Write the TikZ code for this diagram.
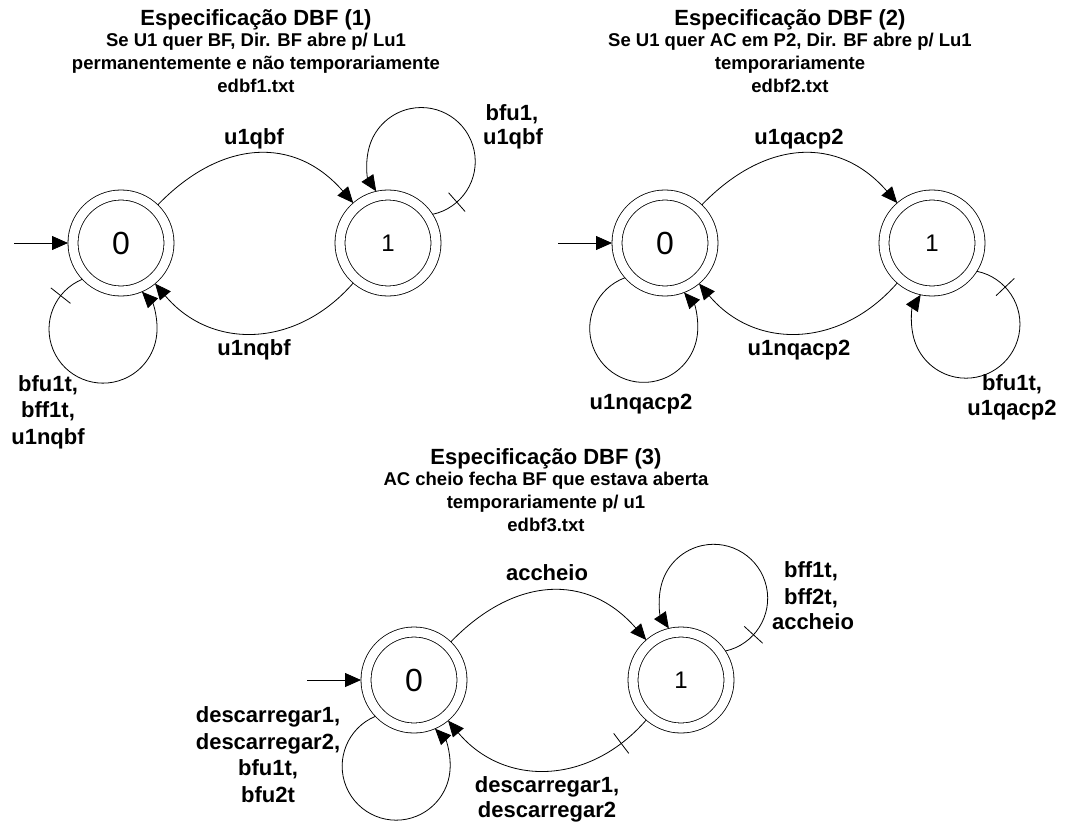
\documentclass[tikz,border=0pt]{standalone}
\usepackage{fontspec}
\setmainfont{Liberation Sans}
\usetikzlibrary{arrows.meta,calc,decorations.markings}
\tikzset{
  state/.style={circle, draw, line width=0.8pt, double, double distance=9.2pt,
    minimum size=96pt, inner sep=0pt, outer sep=5pt},
  zero/.style={font=\fontsize{32}{32}\selectfont},
  one/.style={font=\fontsize{24}{24}\selectfont},
  edge/.style={line width=0.8pt, -{Triangle[length=16pt,width=14pt]}},
  lab/.style={font=\fontsize{22}{26}\selectfont\bfseries, anchor=base, inner sep=0pt},
  ttl/.style={font=\fontsize{22}{26}\selectfont\bfseries, anchor=base, inner sep=0pt},
  sub/.style={font=\fontsize{18.5}{22}\selectfont\bfseries, anchor=base, inner sep=0pt},
  tickat/.style={postaction={decorate}, decoration={markings,
    mark=at position #1 with {\draw[-, line width=0.8pt] (0pt,-12.5pt) -- (0pt,12.5pt);}}},
  notick/.style={}
}
\newcommand\ccwloop[3]{%
  \draw[edge,#3] ($(#1.center)+(#2:88pt)+({#2+214.3}:54pt)$)
    arc[start angle={#2+214.3}, end angle={#2+505.7}, radius=54pt];}
\newcommand\cwloop[3]{%
  \draw[edge,#3] ($(#1.center)+(#2:88pt)+({#2+145.7}:54pt)$)
    arc[start angle={#2+145.7}, end angle={#2-145.7}, radius=54pt];}
\begin{document}
\begin{tikzpicture}[x=1pt,y=1pt]
\path[use as bounding box, fill=white] (0,0) rectangle (1069,-825);

% ---------- Automaton 1 ----------
\node[ttl] (t1a) at (256,-25) {Especificação DBF (1)};
\node[sub] (t1b) at (256,-46.5) {Se U1 quer BF, Dir. BF abre p/ Lu1};
\node[sub] (t1c) at (256,-69.5) {permanentemente e não temporariamente};
\node[sub] (t1d) at (256,-92.5) {edbf1.txt};

\node[state, zero] (a0) at (121,-243) {0};
\node[state, one] (a1) at (388,-243) {1};
\coordinate (ai) at (14,-243);
\draw[edge] (ai) -- (a0);
\draw[edge] (a0) to[out=46, in=131, looseness=1.18] (a1);
\draw[edge] (a1) to[out=229, in=310, looseness=1.12] (a0);
\ccwloop{a1}{67.8}{tickat=0.1}
\ccwloop{a0}{258.2}{tickat=0.1}
\node[lab] (la1) at (254,-144) {u1qbf};
\node[lab] (la2) at (254,-355) {u1nqbf};
\node[lab] (la3) at (512,-120) {bfu1,};
\node[lab] (la4) at (513,-144) {u1qbf};
\node[lab] (la5) at (48,-391) {bfu1t,};
\node[lab] (la6) at (48,-417) {bff1t,};
\node[lab] (la7) at (48,-444) {u1nqbf};

% ---------- Automaton 2 ----------
\node[ttl] (t2a) at (790,-25) {Especificação DBF (2)};
\node[sub] (t2b) at (790,-46.5) {Se U1 quer AC em P2, Dir. BF abre p/ Lu1};
\node[sub] (t2c) at (790,-69.5) {temporariamente};
\node[sub] (t2d) at (790,-92.5) {edbf2.txt};

\node[state, zero] (b0) at (665,-243) {0};
\node[state, one] (b1) at (932,-243) {1};
\coordinate (bi) at (558,-243);
\draw[edge] (bi) -- (b0);
\draw[edge] (b0) to[out=46, in=131, looseness=1.18] (b1);
\draw[edge] (b1) to[out=229, in=310, looseness=1.12] (b0);
\ccwloop{b0}{256}{notick}
\cwloop{b1}{292.7}{tickat=0.12}
\node[lab] (lb1) at (799,-144) {u1qacp2};
\node[lab] (lb2) at (799,-355) {u1nqacp2};
\node[lab] (lb3) at (641,-409) {u1nqacp2};
\node[lab] (lb4) at (1012,-390) {bfu1t,};
\node[lab] (lb5) at (1012,-415) {u1qacp2};

% ---------- Automaton 3 ----------
\node[ttl] (t3a) at (546,-464) {Especificação DBF (3)};
\node[sub] (t3b) at (546,-485.5) {AC cheio fecha BF que estava aberta};
\node[sub] (t3c) at (546,-508.5) {temporariamente p/ u1};
\node[sub] (t3d) at (546,-531.5) {edbf3.txt};

\node[state, zero] (c0) at (414,-680) {0};
\node[state, one] (c1) at (681,-680) {1};
\coordinate (ci) at (307,-680);
\draw[edge] (ci) -- (c0);
\draw[edge] (c0) to[out=46, in=131, looseness=1.18] (c1);
\draw[edge, tickat=0.15] (c1) to[out=229, in=310, looseness=1.12] (c0);
\ccwloop{c0}{258.3}{notick}
\ccwloop{c1}{68.2}{tickat=0.12}
\node[lab] (lc1) at (547,-580) {accheio};
\node[lab] (lc2) at (547,-792) {descarregar1,};
\node[lab] (lc3) at (547,-817) {descarregar2};
\node[lab] (lc4) at (268,-722) {descarregar1,};
\node[lab] (lc5) at (268,-749) {descarregar2,};
\node[lab] (lc6) at (268,-775) {bfu1t,};
\node[lab] (lc7) at (268,-802) {bfu2t};
\node[lab] (lc8) at (811,-577) {bff1t,};
\node[lab] (lc9) at (811,-604) {bff2t,};
\node[lab] (lc10) at (813,-629) {accheio};
\end{tikzpicture}
\end{document}
